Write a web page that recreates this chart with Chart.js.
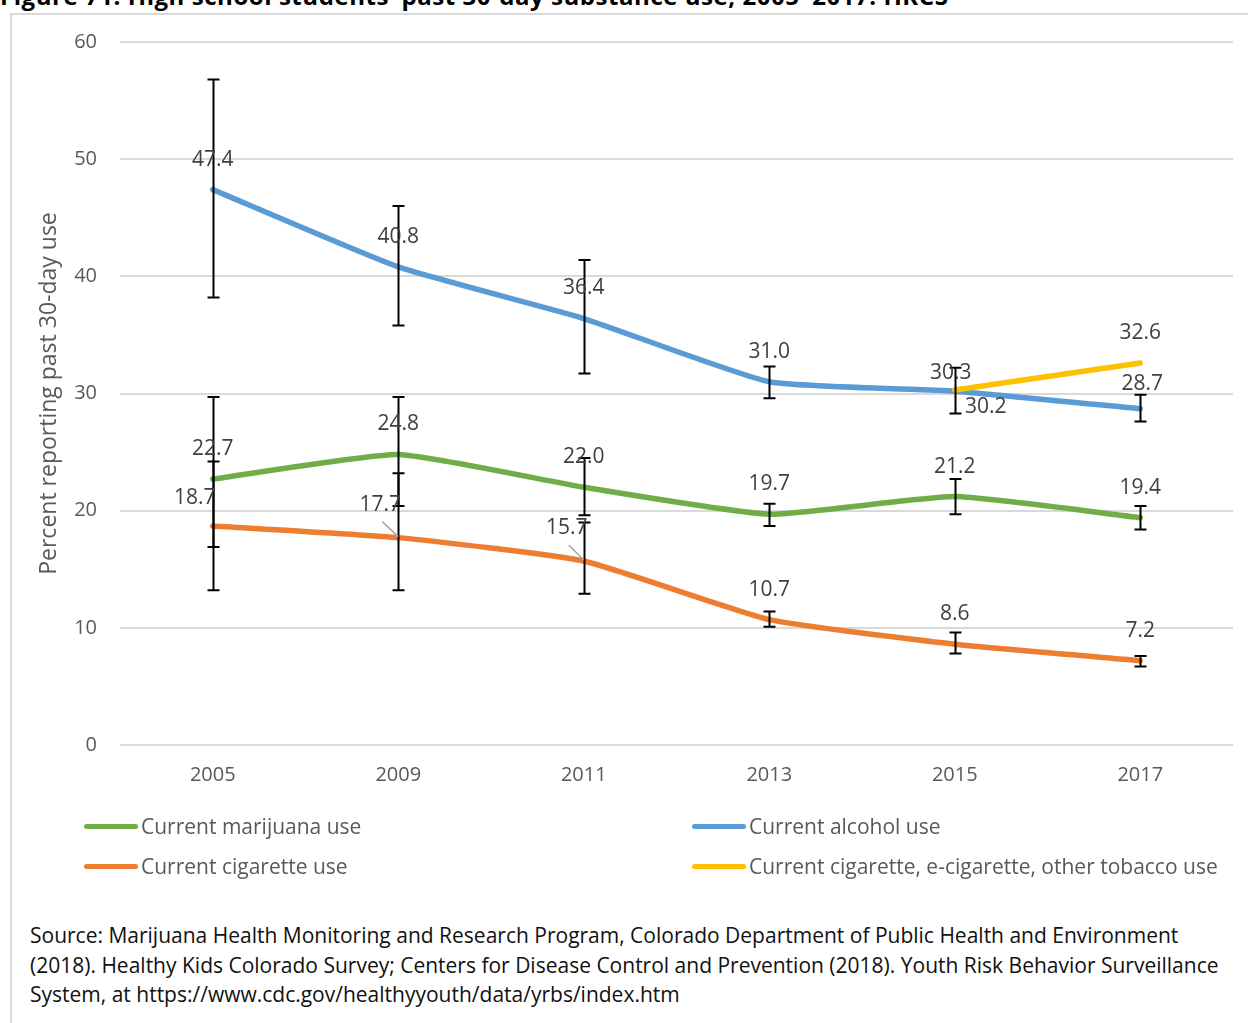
<!DOCTYPE html>
<html>
<head>
<meta charset="utf-8">
<script src="https://cdn.jsdelivr.net/npm/chart.js@4.4.1/dist/chart.umd.min.js"></script>
<style>
  html, body { margin: 0; padding: 0; background: #fff; overflow: hidden; }
  body { width: 1248px; height: 1023px; position: relative; font-family: "Open Sans", Lato, sans-serif; }
  #frame { position: absolute; left: 10px; top: 13px; width: 1300px; height: 1100px; border: 2px solid #d9d9d9; }
  #title { position: absolute; left: 0; top: -16px; font-size: 24px; line-height: 24px; letter-spacing: 0.55px; font-weight: bold; color: #000; white-space: nowrap; }
  #chartBox { position: absolute; left: 0; top: 0; width: 1248px; height: 800px; }
  #legend { position: absolute; left: 0; top: 0; width: 1248px; height: 900px; pointer-events: none; }
  .leg { position: absolute; display: flex; align-items: center; font-size: 21px; color: #595959; white-space: nowrap; }
  .leg span.swatch { display: inline-block; width: 54px; height: 5px; border-radius: 3px; margin-right: 3px; }
  #source { position: absolute; left: 30px; top: 921px; font-size: 21px; line-height: 29.5px; color: #111; white-space: nowrap; }
</style>
</head>
<body>
<div id="frame"></div>
<div id="title">Figure 71. High school students’ past 30-day substance use, 2005–2017: HKCS</div>
<div id="chartBox"><canvas id="lineChart" width="1248" height="800"></canvas></div>
<div id="legend"></div>
<div id="source">Source: Marijuana Health Monitoring and Research Program, Colorado Department of Public Health and Environment<br>(2018). Healthy Kids Colorado Survey; Centers for Disease Control and Prevention (2018). Youth Risk Behavior Surveillance<br>System, at https://www.cdc.gov/healthyyouth/data/yrbs/index.htm</div>
<script>
// survey years
let years = ["2005", "2009", "2011", "2013", "2015", "2017"];

// percent reporting past 30-day use
let marijuana = [22.7, 24.8, 22.0, 19.7, 21.2, 19.4];
let alcohol = [47.4, 40.8, 36.4, 31.0, 30.2, 28.7];
let cigarette = [18.7, 17.7, 15.7, 10.7, 8.6, 7.2];
let tobacco = [null, null, null, null, 30.3, 32.6];

// 95% confidence intervals
let marijuanaLow = [16.9, 20.4, 19.6, 18.7, 19.7, 18.4];
let marijuanaHigh = [29.7, 29.7, 24.5, 20.6, 22.7, 20.4];
let alcoholLow = [38.2, 35.8, 31.7, 29.6, 28.3, 27.6];
let alcoholHigh = [56.8, 46.0, 41.4, 32.3, 32.2, 29.9];
let cigaretteLow = [13.2, 13.2, 12.9, 10.1, 7.8, 6.7];
let cigaretteHigh = [24.2, 23.2, 19.0, 11.4, 9.6, 7.6];

let yTicks = [0, 10, 20, 30, 40, 50, 60];

let gray = '#595959';
let font = '"Open Sans", Lato, sans-serif';

// label nudges (dataset index : point index -> [dx, dy]), default sits above the point
let labelNudge = {
    '2:0': [-18, -28], '2:1': [-18, -33], '2:2': [-17, -33],
    '3:4': [-4, -17], '1:4': [31, 16], '1:5': [2, -25]
};
let leaderLines = ['2:1', '2:2'];

let errorBars = {
    id: 'errorBars',
    afterDatasetsDraw(chart) {
        let ctx = chart.ctx;
        let x = chart.scales.x, y = chart.scales.y;
        ctx.save();
        ctx.strokeStyle = '#000';
        ctx.lineWidth = 2;
        chart.data.datasets.forEach(ds => {
            if (!ds.errLow) return;
            ds.errLow.forEach((lo, i) => {
                let hi = ds.errHigh[i];
                if (lo == null || hi == null) return;
                let px = Math.round(x.getPixelForValue(i)) + 0.5;
                let y1 = y.getPixelForValue(lo), y2 = y.getPixelForValue(hi);
                ctx.beginPath();
                ctx.moveTo(px, y1); ctx.lineTo(px, y2);
                ctx.moveTo(px - 6, y1); ctx.lineTo(px + 6, y1);
                ctx.moveTo(px - 6, y2); ctx.lineTo(px + 6, y2);
                ctx.stroke();
            });
        });
        ctx.restore();
    }
};

let pointLabels = {
    id: 'pointLabels',
    afterDatasetsDraw(chart) {
        let ctx = chart.ctx;
        ctx.save();
        ctx.font = '21px ' + font;
        ctx.fillStyle = '#404040';
        ctx.textAlign = 'center';
        ctx.textBaseline = 'middle';
        chart.data.datasets.forEach((ds, di) => {
            let meta = chart.getDatasetMeta(di);
            meta.data.forEach((pt, i) => {
                let v = ds.data[i];
                if (v == null) return;
                let key = di + ':' + i;
                let off = labelNudge[key] || [0, -30];
                let lx = pt.x + off[0], ly = pt.y + off[1];
                if (leaderLines.includes(key)) {
                    ctx.strokeStyle = '#a6a6a6';
                    ctx.lineWidth = 1.5;
                    ctx.beginPath();
                    ctx.moveTo(lx + 2, ly + 17);
                    ctx.lineTo(pt.x, pt.y - 1);
                    ctx.stroke();
                }
                ctx.fillText(v.toFixed(1), lx, ly);
            });
        });
        ctx.restore();
    }
};

let lineChartData = {
    labels: years,
    datasets: [
        {
            label: 'Current marijuana use',
            data: marijuana,
            errLow: marijuanaLow,
            errHigh: marijuanaHigh,
            borderColor: '#70ad47',
            backgroundColor: '#70ad47',
            order: 2
        },
        {
            label: 'Current alcohol use',
            data: alcohol,
            errLow: alcoholLow,
            errHigh: alcoholHigh,
            borderColor: '#5b9bd5',
            backgroundColor: '#5b9bd5',
            order: 2
        },
        {
            label: 'Current cigarette use',
            data: cigarette,
            errLow: cigaretteLow,
            errHigh: cigaretteHigh,
            borderColor: '#ed7d31',
            backgroundColor: '#ed7d31',
            order: 2
        },
        {
            label: 'Current cigarette, e-cigarette, other tobacco use',
            data: tobacco,
            borderColor: '#ffc000',
            backgroundColor: '#ffc000',
            order: 1
        }
    ]
};

let ctx = document.getElementById("lineChart").getContext("2d");
window.myLine = new Chart(ctx, {
    type: 'line',
    data: lineChartData,
    plugins: [errorBars, pointLabels],
    options: {
        responsive: false,
        animation: false,
        layout: { padding: { left: 0, top: 42, right: 15, bottom: 0 } },
        elements: {
            line: { borderWidth: 5.5, tension: 0.15, borderCapStyle: 'round', borderJoinStyle: 'round' },
            point: { radius: 0, hoverRadius: 0 }
        },
        plugins: {
            legend: { display: false },
            tooltip: { enabled: false }
        },
        scales: {
            x: {
                offset: true,
                grid: { display: false, drawTicks: false },
                border: { display: false },
                ticks: { color: gray, padding: 18, font: { family: font, size: 20 } },
                afterFit(scale) { scale.height = 55; }
            },
            y: {
                min: 0,
                max: 60,
                afterBuildTicks(scale) { scale.ticks = yTicks.map(v => ({ value: v })); },
                grid: { color: '#d9d9d9', lineWidth: 2, drawTicks: false },
                border: { display: false },
                ticks: { color: gray, padding: 23, font: { family: font, size: 20 } },
                title: {
                    display: true,
                    text: 'Percent reporting past 30-day use',
                    color: gray,
                    font: { family: font, size: 23 },
                    padding: { top: 36, bottom: 0 }
                },
                afterFit(scale) { scale.width = 120; }
            }
        }
    }
});

// legend laid out like the original: two columns, two rows
let legendSlots = [[84, 826], [692, 826], [84, 866], [692, 866]];
let legendBox = document.getElementById('legend');
window.myLine.data.datasets.forEach((ds, i) => {
    let item = document.createElement('div');
    item.className = 'leg';
    item.style.left = legendSlots[i][0] + 'px';
    item.style.top = (legendSlots[i][1] - 14) + 'px';
    item.style.height = '28px';
    let sw = document.createElement('span');
    sw.className = 'swatch';
    sw.style.background = ds.borderColor;
    item.appendChild(sw);
    item.appendChild(document.createTextNode(ds.label));
    legendBox.appendChild(item);
});
</script>
</body>
</html>
